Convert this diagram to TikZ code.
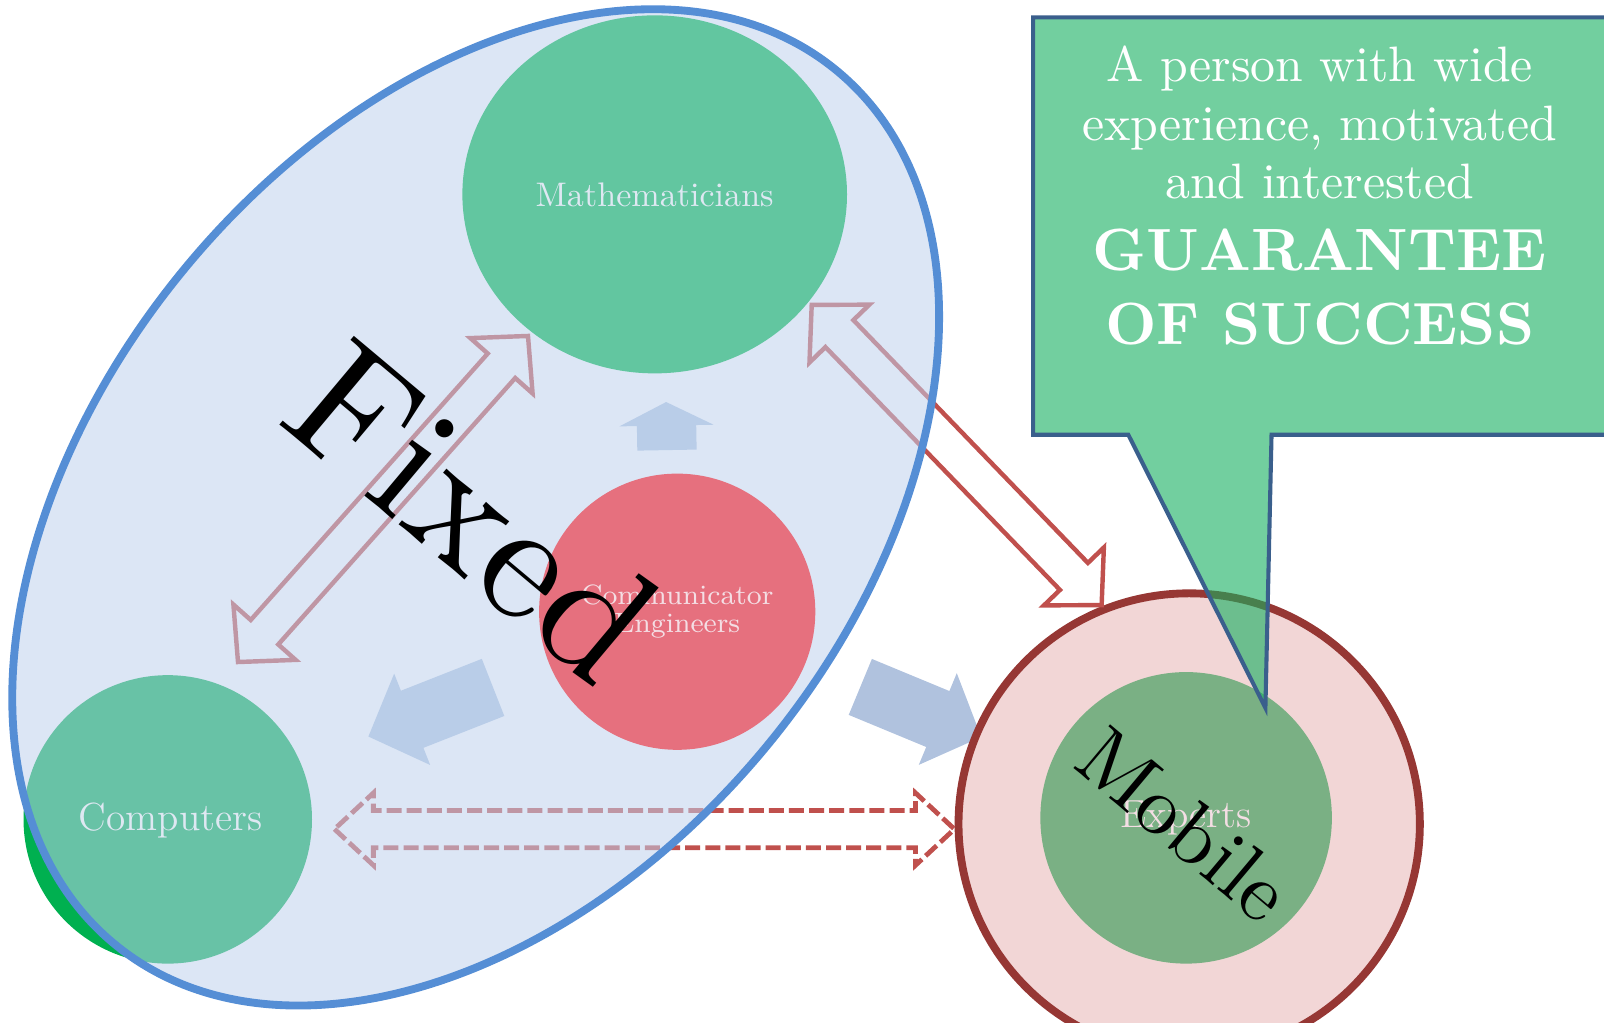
\documentclass[tikz,border=0pt]{standalone}
\usepackage{fontspec}
\usepackage{graphicx}
\usetikzlibrary{shapes.geometric}

\definecolor{zonefill}{RGB}{191,209,237}
\definecolor{zoneline}{RGB}{85,142,213}
\definecolor{softgreen}{RGB}{98,198,160}
\definecolor{brightgreen}{RGB}{0,176,80}
\definecolor{softred}{RGB}{230,112,126}
\definecolor{ringfill}{RGB}{242,214,214}
\definecolor{ringline}{RGB}{150,55,52}
\definecolor{innergreen}{RGB}{122,176,132}
\definecolor{linkred}{RGB}{192,80,77}
\definecolor{flowin}{RGB}{185,205,232}
\definecolor{flowout}{RGB}{176,194,222}
\definecolor{callfill}{RGB}{20,175,95}
\definecolor{callline}{RGB}{58,95,140}
\definecolor{paletext}{RGB}{222,232,242}
\definecolor{pinktext}{RGB}{244,222,228}

% hollow double-headed block arrow: style, centre, angle, half length,
% head length, head half-width, shaft half-width
\newcommand{\hollowdouble}[7]{%
  \begin{scope}[shift={#2}, rotate=#3]
    \draw[#1] (-#4,0) -- (-#4+#5,#6) -- (-#4+#5,#7) -- (#4-#5,#7)
      -- (#4-#5,#6) -- (#4,0) -- (#4-#5,-#6) -- (#4-#5,-#7)
      -- (-#4+#5,-#7) -- (-#4+#5,-#6) -- cycle;
  \end{scope}}

% solid single block arrow: style, base centre, angle, length,
% head length, head half-width, shaft half-width
\newcommand{\blockarrow}[7]{%
  \begin{scope}[shift={#2}, rotate=#3]
    \fill[#1] (0,#7) -- (#4-#5,#7) -- (#4-#5,#6) -- (#4,0)
      -- (#4-#5,-#6) -- (#4-#5,-#7) -- (0,-#7) -- cycle;
  \end{scope}}

\tikzset{
  zone/.style={ellipse, inner sep=0pt, rotate=50.35,
    minimum width=332.4pt, minimum height=220.8pt},
  member/.style={ellipse, inner sep=0pt, align=center},
  hollowlink/.style={draw=linkred, line width=1.3pt, line join=miter},
  dashedlink/.style={hollowlink, line width=1.4pt, dash pattern=on 4.4pt off 1.5pt},
  flowinside/.style={fill=flowin},
  flowoutside/.style={fill=flowout},
  calltext/.style={text=white, anchor=base, font=\fontsize{10}{12}\selectfont},
}

\begin{document}
\begin{tikzpicture}[x=0.3pt, y=-0.3pt]
  \useasboundingbox (0,0) rectangle (1568,1000);
  \clip (0,0) rectangle (1568,1000);

  % flow towards the experts, passing under their ring
  \blockarrow{flowoutside}{(841,671.5)}{-22.5}{128}{46}{48.5}{29.6}

  % experts
  \node[circle, inner sep=0pt, minimum size=135.3pt, fill=ringfill,
        draw=ringline, line width=2.3pt] (ring) at (1162.5,805.5) {};
  \node[member, minimum width=85.5pt, minimum height=85.5pt, fill=innergreen,
        text=pinktext, font=\fontsize{11.5}{13}\selectfont] (experts) at (1159.5,799.5) {Experts};

  % computers disc, washed out by the zone where it lies inside it
  \node[circle, inner sep=0pt, minimum size=84.6pt, fill=brightgreen] (comp) at (164,801) {};

  % exchange links
  \hollowdouble{hollowlink}{(374.4,487.8)}{48.35}{213.3}{39}{40.7}{18}
  \hollowdouble{hollowlink}{(935.2,444.8)}{-46}{204}{39}{40.7}{19}
  \hollowdouble{dashedlink}{(630,810.5)}{0}{303}{38}{35.3}{18.3}

  % translucent fixed zone
  \node[zone, fill=zonefill, fill opacity=0.55] (zone) at (465,496) {};

  % members of the fixed zone
  \node[member, minimum width=112.8pt, minimum height=105pt, fill=softgreen,
        text=paletext, font=\fontsize{10}{12}\selectfont] (math) at (640,190) {Mathematicians};
  \node[text=paletext, font=\fontsize{11.5}{13}\selectfont] (complabel) at (167,802) {Computers};
  \node[member, minimum width=81pt, minimum height=81pt, fill=softred,
        text=pinktext, font=\fontsize{8.2}{8.1}\selectfont] (comm) at (662,598) {Communicator\\Engineers};

  % flows inside the zone
  \blockarrow{flowinside}{(652,440)}{91}{47}{23}{46}{29}
  \blockarrow{flowinside}{(482,672)}{201.5}{131}{46}{48}{30}

  % zone outline and its label
  \node[zone, draw=zoneline, line width=2.3pt] (zoneborder) at (zone.center) {};
  \node[rotate=-40, font=\fontsize{10}{12}\selectfont] (fixedlabel) at (463,500) {\scalebox{5}{Fixed}};

  % callout
  \filldraw[fill=callfill, fill opacity=0.6, draw=callline, line width=1.2pt, line join=miter]
    (1010,17) -- (1600,17) -- (1600,425) -- (1243,425) -- (1237,692)
    -- (1103,425) -- (1010,425) -- cycle;
  \node[calltext] (c1) at (1290,80) {\scalebox{1.46}{A person with wide}};
  \node[calltext] (c2) at (1290,137) {\scalebox{1.46}{experience, motivated}};
  \node[calltext] (c3) at (1290,194) {\scalebox{1.46}{and interested}};
  \node[calltext] (c4) at (1290,264) {\scalebox{1.75}{\bfseries GUARANTEE}};
  \node[calltext] (c5) at (1290,337) {\scalebox{1.75}{\bfseries OF SUCCESS}};

  % label of the experts' ring
  \node[rotate=-40, font=\fontsize{10}{12}\selectfont] (mobilelabel) at (1158,806) {\scalebox{2.45}{Mobile}};
\end{tikzpicture}
\end{document}
